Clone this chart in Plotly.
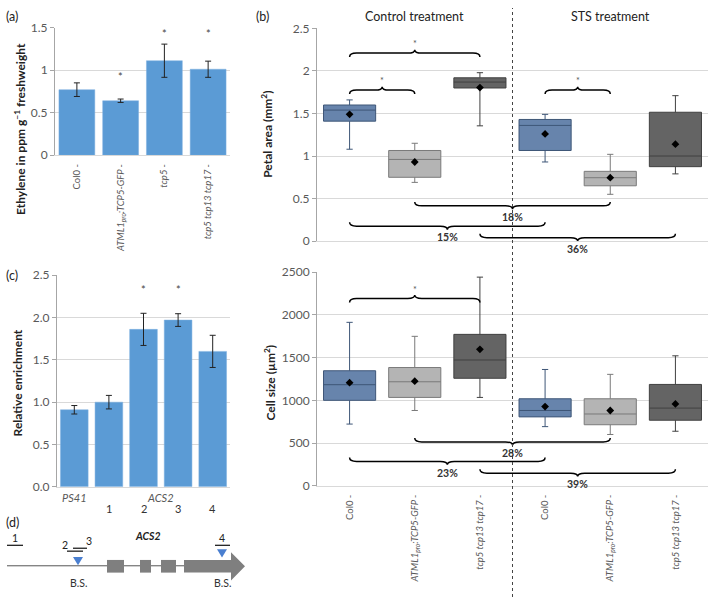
import plotly.graph_objects as go

W, H = 709, 604
FONT = "Lato, 'Open Sans', sans-serif"
TICKC = "#595959"
GRID = "#D9D9D9"
AXC = "#A6A6A6"

# ---------------- (a) ethylene ----------------
eth_labels = ["Col0 -", "<i>ATML1<sub>pro</sub>:TCP5-GFP -</i>", "<i>tcp5 -</i>", "<i>tcp5 tcp13 tcp17 -</i>"]
eth_mean = [0.77, 0.64, 1.11, 1.01]
eth_err = [0.08, 0.02, 0.195, 0.095]
eth_sig = [False, True, True, True]

# ---------------- (c) ChIP enrichment ----------------
chip_labels = ["PS41", "1", "2", "3", "4"]
chip_mean = [0.91, 1.00, 1.86, 1.97, 1.60]
chip_err = [0.05, 0.08, 0.19, 0.075, 0.19]
chip_sig = [False, False, True, True, False]

# ---------------- (b) boxplots ----------------
geno_labels = ["Col0 -", "<i>ATML1<sub>pro</sub>:TCP5-GFP -</i>", "<i>tcp5 tcp13 tcp17 -</i>"]
treatments = ["Control treatment", "STS treatment"]
geno_colors = ["#6784AC", "#B4B4B4", "#646464"]
geno_lines = ["#3E5677", "#7A7A7A", "#404040"]

# petal area (mm2): order Control[Col0, ATML1, tcp], STS[Col0, ATML1, tcp]
pet_lo = [1.08, 0.69, 1.355, 0.93, 0.55, 0.79]
pet_q1 = [1.41, 0.75, 1.80, 1.065, 0.65, 0.875]
pet_med = [1.54, 0.96, 1.87, 1.36, 0.745, 1.00]
pet_q3 = [1.60, 1.065, 1.92, 1.43, 0.82, 1.515]
pet_hi = [1.66, 1.15, 1.98, 1.49, 1.02, 1.71]
pet_mean = [1.49, 0.93, 1.805, 1.26, 0.745, 1.14]

# cell size (um2)
cell_lo = [723, 882, 1035, 693, 601, 639]
cell_q1 = [1001, 1035, 1259, 807, 715, 768]
cell_med = [1184, 1218, 1473, 882, 841, 910]
cell_q3 = [1347, 1385, 1773, 1019, 1019, 1187]
cell_hi = [1914, 1750, 2443, 1362, 1305, 1522]
cell_mean = [1207, 1225, 1598, 928, 882, 959]

# comparisons: (from, to, label)
pet_up = [(0, 2, "*"), (0, 1, "*"), (3, 4, "*")]
pet_down = [(1, 4, "18%"), (0, 3, "15%"), (2, 5, "36%")]
cell_up = [(0, 2, "*")]
cell_down = [(1, 4, "28%"), (0, 3, "23%"), (2, 5, "39%")]

# ---------------- (d) ACS2 gene schematic (diagram units) ----------------
gene_start, gene_end = 7, 245
exon_starts = [107, 140, 161, 184]
exon_ends = [124, 151, 176, 245]
bs_pos = [78, 222]
primers = [("1", 7, 23), ("2", 67, 83), ("3", 73, 87), ("4", 215, 230)]


def px(x):
    return x / W


def py(y):
    return 1 - y / H


# axis geometry (pixels)
PET_DOM = (239, 21)
CELL_DOM = (490, 271)
PET_RNG = (0, 2.5)
CELL_RNG = (0, 2500)


def data_to_paper(v, dom, rng):
    ybot, ytop = dom
    pix = ybot - (v - rng[0]) / (rng[1] - rng[0]) * (ybot - ytop)
    return py(pix)


fig = go.Figure()

# (a)
fig.add_trace(go.Bar(x=list(range(4)), y=eth_mean, xaxis="x", yaxis="y",
                     marker=dict(color="#5B9BD5", line=dict(color="#7FB0E0", width=0.5)),
                     error_y=dict(type="data", array=eth_err, color="#222", thickness=1, width=3),
                     width=0.82, showlegend=False))
# (c)
fig.add_trace(go.Bar(x=list(range(5)), y=chip_mean, xaxis="x2", yaxis="y2",
                     marker=dict(color="#5B9BD5", line=dict(color="#7FB0E0", width=0.5)),
                     error_y=dict(type="data", array=chip_err, color="#222", thickness=1, width=3),
                     width=0.8, showlegend=False))

# (b) boxes
for ax, (lo, q1, med, q3, hi, mn) in [(("x3", "y3"), (pet_lo, pet_q1, pet_med, pet_q3, pet_hi, pet_mean)),
                                     (("x4", "y4"), (cell_lo, cell_q1, cell_med, cell_q3, cell_hi, cell_mean))]:
    for g in range(3):
        idx = [g, g + 3]
        fig.add_trace(go.Box(x=idx, q1=[q1[i] for i in idx], median=[med[i] for i in idx],
                             q3=[q3[i] for i in idx], lowerfence=[lo[i] for i in idx],
                             upperfence=[hi[i] for i in idx], xaxis=ax[0], yaxis=ax[1],
                             fillcolor=geno_colors[g], line=dict(color=geno_lines[g], width=1),
                             width=0.8, whiskerwidth=0.12, showlegend=False, boxpoints=False))
    fig.add_trace(go.Scatter(x=list(range(6)), y=mn, xaxis=ax[0], yaxis=ax[1], mode="markers",
                             marker=dict(symbol="diamond", size=6, color="black"), showlegend=False))

shapes = []
annotations = []


def ann(**kw):
    d = dict(showarrow=False, xanchor="center", yanchor="middle")
    d.update(kw)
    annotations.append(d)


def brace(x0, x1, y_end, up, ypp, xpp, xref, yref):
    s = 1 if up else -1
    yb = y_end + s * 4 * ypp
    yt = y_end + s * 7.5 * ypp
    xm = (x0 + x1) / 2
    d = 7 * xpp
    path = (f"M{x0},{y_end} Q{x0},{yb} {x0 + d},{yb} L{xm - d},{yb} Q{xm},{yb} {xm},{yt} "
            f"Q{xm},{yb} {xm + d},{yb} L{x1 - d},{yb} Q{x1},{yb} {x1},{y_end}")
    shapes.append(dict(type="path", path=path, xref=xref, yref=yref,
                       line=dict(color="black", width=1.5)))
    return xm, yt


# pixel scales
xpp = 6 / (708 - 317)          # categories per px
pet_ypp = 2.5 / (239 - 21)
cell_ypp = 2500 / (490 - 271)

# petal braces
pet_up_y = [2.165, 1.73, 1.73]
for (a, b, lab), ye in zip(pet_up, pet_up_y):
    xm, yt = brace(a, b, ye, True, pet_ypp, xpp, "x3", "y3")
    ann(x=xm, y=yt + 6 * pet_ypp, xref="x3", yref="y3", text=lab, font=dict(size=9, color="#555"))
pet_down_y = [0.46, 0.22, 0.085]
for (a, b, lab), ye in zip(pet_down, pet_down_y):
    xm, yt = brace(a, b, ye, False, pet_ypp, xpp, "x3", "y3")
    ann(x=xm, y=data_to_paper(yt - 8 * pet_ypp, PET_DOM, PET_RNG), xref="x3", yref="paper",
        text="<b>" + lab + "</b>", font=dict(size=10.5, color="#333"))
# cell braces
cell_up_y = [2147]
for (a, b, lab), ye in zip(cell_up, cell_up_y):
    xm, yt = brace(a, b, ye, True, cell_ypp, xpp, "x4", "y4")
    ann(x=xm, y=yt + 6 * cell_ypp, xref="x4", yref="y4", text=lab, font=dict(size=9, color="#555"))
cell_down_y = [560, 331, 194]
for (a, b, lab), ye in zip(cell_down, cell_down_y):
    xm, yt = brace(a, b, ye, False, cell_ypp, xpp, "x4", "y4")
    ann(x=xm, y=data_to_paper(yt - 8 * cell_ypp, CELL_DOM, CELL_RNG), xref="x4", yref="paper",
        text="<b>" + lab + "</b>", font=dict(size=10.5, color="#333"))

# significance stars (a) and (c)
eth_star_y = [None, 0.92, 1.43, 1.43]
for i, s in enumerate(eth_sig):
    if s:
        ann(x=i, y=eth_star_y[i], xref="x", yref="y", text="*", font=dict(size=11, color="#444"))
for i, s in enumerate(chip_sig):
    if s:
        ann(x=i, y=2.33, xref="x2", yref="y2", text="*", font=dict(size=11, color="#444"))

# (c) x labels
ann(x=0, y=py(502), xref="x2", yref="paper", text="<i>" + chip_labels[0] + "</i>",
    font=dict(size=11, color=TICKC))
ann(x=2.5, y=py(502), xref="x2", yref="paper", text="<i>ACS2</i>", font=dict(size=11, color=TICKC))
for i in range(1, 5):
    ann(x=i, y=py(513), xref="x2", yref="paper", text=chip_labels[i], font=dict(size=11, color="#333"))

# treatment headers
for k, t in enumerate(treatments):
    ann(x=1 + 3 * k, y=py(9), xref="x3", yref="paper", text=t, font=dict(size=12.5, color="#222"))

# dashed separator
shapes.append(dict(type="line", x0=2.5, x1=2.5, y0=0, y1=1, xref="x3", yref="paper",
                   line=dict(color="#444", width=1, dash="dot")))

# panel letters
for lab, x, y in [("(a)", 12, 9), ("(b)", 262, 9), ("(c)", 12, 274), ("(d)", 12, 528)]:
    ann(x=px(x), y=py(y), xref="paper", yref="paper", text=lab, font=dict(size=12.5, color="#222"))

# y axis titles
for txt, x, y in [("<b>Ethylene in ppm g<sup>−1</sup> freshweight</b>", 20, 124),
                  ("<b>Relative enrichment</b>", 17, 385),
                  ("<b>Petal area (mm<sup>2</sup>)</b>", 267, 130),
                  ("<b>Cell size (µm<sup>2</sup>)</b>", 270, 384)]:
    ann(x=px(x), y=py(y), xref="paper", yref="paper", text=txt, textangle=-90,
        font=dict(size=12, color="#222"))

# (d) gene schematic
gy = 572
shapes.append(dict(type="line", x0=gene_start, x1=exon_starts[-1], y0=gy, y1=gy, xref="x5", yref="y5",
                   line=dict(color="#555", width=1)))
for s0, s1 in zip(exon_starts[:-1], exon_ends[:-1]):
    shapes.append(dict(type="rect", x0=s0, x1=s1, y0=gy - 6, y1=gy + 7, xref="x5", yref="y5",
                       fillcolor="#7F7F7F", line=dict(width=0)))
a0, a1 = exon_starts[-1], exon_ends[-1]
ah = a1 - 14
shapes.append(dict(type="path", xref="x5", yref="y5", fillcolor="#7F7F7F", line=dict(width=0),
                   path=f"M{a0},{gy - 6} L{ah},{gy - 6} L{ah},{gy - 14} L{a1},{gy + 0.5} L{ah},{gy + 15} L{ah},{gy + 7} L{a0},{gy + 7} Z"))
bs_y = [563, 555]
for bx, by in zip(bs_pos, bs_y):
    shapes.append(dict(type="path", xref="x5", yref="y5", fillcolor="#4A7FD0", line=dict(width=0),
                       path=f"M{bx - 5},{by} L{bx + 5},{by} L{bx},{by + 8.5} Z"))
    ann(x=bx, y=590, xref="x5", yref="y5", text="B.S.", font=dict(size=10.5, color="#333"))
primer_y = [551, 557, 554, 551]
primer_lab = [(15, 544), (65, 551), (89, 547), (222, 544)]
for (lab, x0, x1), yy, (lx, ly) in zip(primers, primer_y, primer_lab):
    shapes.append(dict(type="line", x0=x0, x1=x1, y0=yy, y1=yy, xref="x5", yref="y5",
                       line=dict(color="#222", width=1.3)))
    ann(x=lx, y=ly, xref="x5", yref="y5", text=lab, font=dict(size=10.5, color="#222"))
ann(x=148, y=541, xref="x5", yref="y5", text="<b><i>ACS2</i></b>", font=dict(size=10.5, color="#222"))

tickfont = dict(size=12, color=TICKC, family=FONT)
xtickfont = dict(size=9.5, color=TICKC, family=FONT)


def yax(domain, rng, tickvals, ticktext, anchor):
    return dict(domain=domain, range=rng, tickvals=tickvals, ticktext=ticktext, anchor=anchor,
                showgrid=True, gridcolor=GRID, gridwidth=1, zeroline=False, showline=True,
                linecolor=AXC, linewidth=1, ticks="outside", ticklen=4, tickcolor=AXC,
                tickfont=tickfont, fixedrange=True)


def xax(domain, rng, anchor, tickvals=None, ticktext=None):
    d = dict(domain=domain, range=rng, anchor=anchor, showgrid=False, zeroline=False,
             showline=True, linecolor=GRID, linewidth=1, ticks="outside", ticklen=4,
             tickcolor="rgba(0,0,0,0)", fixedrange=True)
    if tickvals is None:
        d["showticklabels"] = False
    else:
        d.update(tickvals=tickvals, ticktext=ticktext, tickangle=-90, tickfont=xtickfont)
    return d


fig.update_layout(
    width=W, height=H, margin=dict(l=0, r=0, t=0, b=0),
    paper_bgcolor="white", plot_bgcolor="white",
    font=dict(family=FONT, color="#222"),
    showlegend=False, hovermode=False,
    xaxis=xax([px(55), px(230)], [-0.5, 3.5], "y", list(range(4)), eth_labels),
    yaxis=yax([py(151), py(20)], [0, 1.5], [0, 0.5, 1, 1.5], ["0", "0.5", "1", "1.5"], "x"),
    xaxis2=xax([px(57), px(230)], [-0.5, 4.5], "y2"),
    yaxis2=yax([py(491), py(274)], [0, 2.5], [0, 0.5, 1, 1.5, 2, 2.5],
               ["0.0", "0.5", "1.0", "1.5", "2.0", "2.5"], "x2"),
    xaxis3=xax([px(317), px(708)], [-0.5, 5.5], "y3"),
    yaxis3=yax([py(PET_DOM[0]), py(PET_DOM[1])], list(PET_RNG), [0, 0.5, 1, 1.5, 2, 2.5],
               ["0", "0.5", "1", "1.5", "2", "2.5"], "x3"),
    xaxis4=xax([px(317), px(708)], [-0.5, 5.5], "y4", list(range(6)), geno_labels * 2),
    yaxis4=yax([py(CELL_DOM[0]), py(CELL_DOM[1])], list(CELL_RNG), [0, 500, 1000, 1500, 2000, 2500],
               ["0", "500", "1000", "1500", "2000", "2500"], "x4"),
    xaxis5=dict(domain=[0, px(250)], range=[0, 250], anchor="y5", visible=False, fixedrange=True),
    yaxis5=dict(domain=[0, py(520)], range=[604, 520], anchor="x5", visible=False, fixedrange=True),
    shapes=shapes, annotations=annotations,
)

fig.write_html("out.html", config={"displayModeBar": False},
               post_script="document.body.style.margin='0px';document.body.style.overflow='hidden';")
